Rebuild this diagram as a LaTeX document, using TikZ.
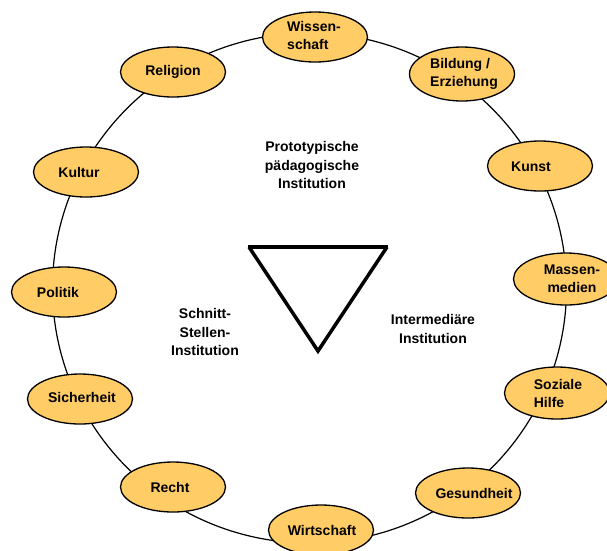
\documentclass[tikz,border=0pt]{standalone}
\usepackage{fontspec}
\setmainfont{Liberation Sans}
\usetikzlibrary{shapes.geometric}
\definecolor{blobfill}{HTML}{FFCC66}
\tikzset{
  blob/.style={ellipse, draw=black, line width=1.3pt, fill=blobfill, minimum width=105pt, minimum height=50pt, inner sep=0pt},
  lbl/.style={font=\bfseries\fontsize{14}{18}\selectfont, align=left, inner sep=0pt},
  ctext/.style={font=\bfseries\fontsize{14}{18.5}\selectfont, align=center, inner sep=0pt},
  ring/.style={line width=1.2pt, draw=black},
}
\begin{document}
\begin{tikzpicture}[x=1pt,y=-1pt]
\useasboundingbox (0,0) rectangle (607,550);
\draw[ring] (309.5,288) ellipse [x radius=257, y radius=255];
% ellipses
\node[blob] (wiss) at (315,37) {};
\node[blob, minimum height=54pt] (bild) at (462,74) {};
\node[blob] (kunst) at (540,166) {};
\node[blob, minimum height=52pt] (mass) at (566,279) {};
\node[blob, minimum height=52pt] (soz) at (557,393) {};
\node[blob] (ges) at (468,493) {};
\node[blob] (wirt) at (321,530) {};
\node[blob] (recht) at (173,487) {};
\node[blob] (sich) at (80,399) {};
\node[blob] (pol) at (64,292) {};
\node[blob] (kult) at (86,172) {};
\node[blob] (rel) at (173,72) {};
% labels
\node[lbl] at ([xshift=-1pt,yshift=2pt]wiss.center) {Wissen-\\schaft};
\node[lbl] at ([xshift=2pt]bild.center) {Bildung /\\Erziehung};
\node[lbl] at ([xshift=-9pt,yshift=-1pt]kunst.center) {Kunst};
\node[lbl, align=center] at ([xshift=6pt]mass.center) {Massen-\\medien};
\node[lbl] at ([xshift=1pt]soz.center) {Soziale\\Hilfe};
\node[lbl] at ([xshift=6pt]ges.center) {Gesundheit};
\node[lbl] at ([xshift=1pt]wirt.center) {Wirtschaft};
\node[lbl] at ([xshift=-3pt]recht.center) {Recht};
\node[lbl] at ([xshift=2pt,yshift=2pt]sich.center) {Sicherheit};
\node[lbl] at ([xshift=-6pt]pol.center) {Politik};
\node[lbl] at ([xshift=-7pt]kult.center) {Kultur};
\node[lbl] at (rel.center) {Religion};
% center texts
\node[ctext] (proto) at (312,165) {Prototypische\\pädagogische\\Institution};
\node[ctext] (schnitt) at (205,332) {Schnitt-\\Stellen-\\Institution};
\node[ctext] (inter) at (433,329) {Intermediäre\\Institution};
% triangle
\coordinate (tl) at (249,247);
\coordinate (tr) at (387,247);
\coordinate (bt) at (318,351);
\draw[line width=3.5pt, line join=miter] (tr) -- (bt) -- (tl);
\draw[line width=4.5pt] ([xshift=-1pt]tl) -- ([xshift=1pt]tr);
\end{tikzpicture}
\end{document}
